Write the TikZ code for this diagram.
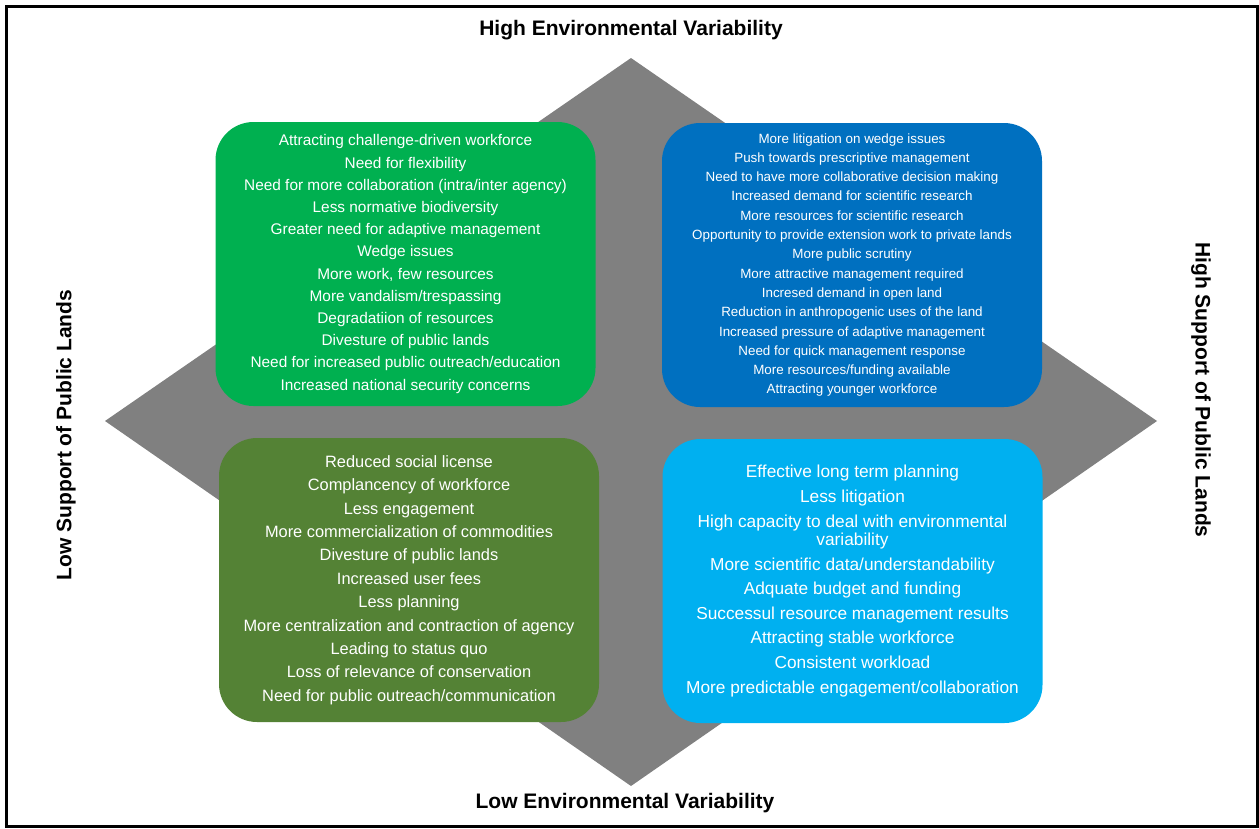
\documentclass[tikz,border=0pt]{standalone}
\usepackage{fontspec}
\setmainfont{Liberation Sans}
\usetikzlibrary{calc}

\definecolor{diagray}{HTML}{808080}
\definecolor{qgreen}{HTML}{00B050}
\definecolor{qblue}{HTML}{0070C0}
\definecolor{qolive}{HTML}{548235}
\definecolor{qcyan}{HTML}{00B0F0}

\tikzset{
  quadbox/.style={rounded corners=38pt,minimum width=380pt,minimum height=284pt,
    text=white,align=center,inner sep=0pt},
  axislabel/.style={font=\fontsize{21}{24}\selectfont\bfseries}
}

\begin{document}
\begin{tikzpicture}[x=1pt,y=-1pt]
\useasboundingbox (0,0) rectangle (1259,828);
\draw[line width=3pt] (6,6) rectangle (1257,826);
% diamond
\coordinate (top) at (631,58);
\coordinate (right) at (1157,421);
\coordinate (bottom) at (631,786);
\coordinate (left) at (105,421);
\fill[diagray] (top) -- (right) -- (bottom) -- (left) -- cycle;
% quadrants
\node[quadbox,fill=qgreen,font=\fontsize{15.4}{22.2}\selectfont] (tl) at (405.5,264) {%
Attracting challenge-driven workforce\\
Need for flexibility\\
Need for more collaboration (intra/inter agency)\\
Less normative biodiversity\\
Greater need for adaptive management\\
Wedge issues\\
More work, few resources\\
More vandalism/trespassing\\
Degradatiion of resources\\
Divesture of public lands\\
Need for increased public outreach/education\\
Increased national security concerns};
\node[quadbox,fill=qblue,font=\fontsize{13.4}{19.3}\selectfont] (tr) at (852,265) {%
More litigation on wedge issues\\
Push towards prescriptive management\\
Need to have more collaborative decision making\\
Increased demand for scientific research\\
More resources for scientific research\\
Opportunity to provide extension work to private lands\\
More public scrutiny\\
More attractive management required\\
Incresed demand in open land\\
Reduction in anthropogenic uses of the land\\
Increased pressure of adaptive management\\
Need for quick management response\\
More resources/funding available\\
Attracting younger workforce};
\node[quadbox,fill=qolive,font=\fontsize{16.4}{23.4}\selectfont] (bl) at (409,580) {%
Reduced social license\\
Complancency of workforce\\
Less engagement\\
More commercialization of commodities\\
Divesture of public lands\\
Increased user fees\\
Less planning\\
More centralization and contraction of agency\\
Leading to status quo\\
Loss of relevance of conservation\\
Need for public outreach/communication};
\node[quadbox,fill=qcyan,font=\fontsize{17.3}{18.3}\selectfont] (br) at (852.5,581) {%
Effective long term planning\\[6.3pt]
Less litigation\\[6.3pt]
High capacity to deal with environmental\\
variability\\[6.3pt]
More scientific data/understandability\\[6.3pt]
Adquate budget and funding\\[6.3pt]
Successul resource management results\\[6.3pt]
Attracting stable workforce\\[6.3pt]
Consistent workload\\[6.3pt]
More predictable engagement/collaboration};
% axis labels
\node[axislabel] (hev) at (631,30) {High Environmental Variability};
\node[axislabel] (lev) at (625,803) {Low Environmental Variability};
\node[axislabel,rotate=90] (lsp) at (66,435) {Low Support of Public Lands};
\node[axislabel,rotate=-90] (hsp) at (1201,390) {High Support of Public Lands};
\end{tikzpicture}
\end{document}
